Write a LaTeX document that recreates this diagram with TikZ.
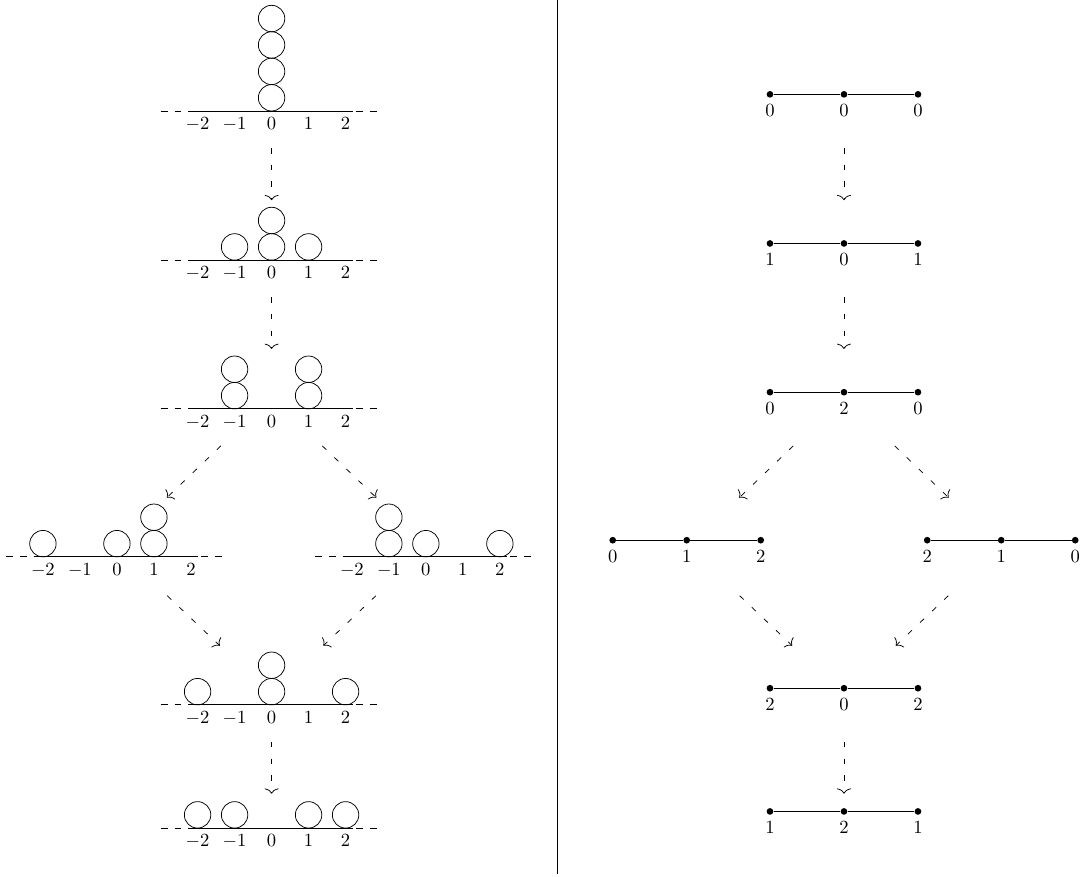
\documentclass[tikz,border=0pt]{standalone}
\usepackage{amsmath,amssymb}
\usepackage{tikz}
\usetikzlibrary{arrows, arrows.meta, calc, positioning}

\tikzset{
  chip/.style={draw},
  move/.style={-{To[width=7.5pt, length=2.8pt]}, loosely dashed},
  site/.style={circle, fill, inner sep=0pt, minimum size=3.6pt},
}
% number line with ticks named #1-2 ... #12
\newcommand{\chipaxis}[1]{%
  \draw[dash pattern=on 3.75pt off 3.75pt] (-3,0) -- (3,0);
  \draw (-2.2,0) -- (2.2,0);
  \foreach \n in {-2,...,2} \node[below] (#1\n) at (\n,0) {$\n$};
}
% pile of #2 chips at site #1
\newcommand{\chippile}[2]{%
  \foreach \h in {1,...,#2} \draw[chip] (#1,{(2*\h-1)*0.357}) circle[radius=0.25cm];
}

\begin{document}
\begin{tikzpicture}[x=0.7cm, y=0.7cm]
\useasboundingbox (-7.34,3.0) rectangle (21.93,-20.68);

% chips on the line
\begin{scope}
\chipaxis{a}
\chippile{0}{4}
\end{scope}
\begin{scope}[shift={(0,-4.03)}]
\chipaxis{b}
\chippile{-1}{1} \chippile{0}{2} \chippile{1}{1}
\end{scope}
\begin{scope}[shift={(0,-8.05)}]
\chipaxis{c}
\chippile{-1}{2} \chippile{1}{2}
\end{scope}
\begin{scope}[shift={(-4.18,-12.05)}]
\chipaxis{dl}
\chippile{-2}{1} \chippile{0}{1} \chippile{1}{2}
\end{scope}
\begin{scope}[shift={(4.17,-12.05)}]
\chipaxis{dr}
\chippile{-1}{2} \chippile{0}{1} \chippile{2}{1}
\end{scope}
\begin{scope}[shift={(0,-16.05)}]
\chipaxis{e}
\chippile{-2}{1} \chippile{0}{2} \chippile{2}{1}
\end{scope}
\begin{scope}[shift={(0,-19.38)}]
\chipaxis{f}
\chippile{-2}{1} \chippile{-1}{1} \chippile{1}{1} \chippile{2}{1}
\end{scope}

% separator
\coordinate (top) at (7.73,3.0);
\coordinate (bot) at (7.73,-20.62);
\draw (top) -- (bot);

% the path graph
\foreach \g/\px/\py/\la/\lb/\lc in {g1/15.47/0.45/0/0/0, g2/15.47/-3.58/1/0/1,
    g3/15.47/-7.6/0/2/0, g4/11.22/-11.6/0/1/2, g5/19.72/-11.6/2/1/0,
    g6/15.47/-15.6/2/0/2, g7/15.47/-18.93/1/2/1} {
  \begin{scope}[shift={(\px,\py)}]
  \node[site, label=below:$\la$] (\g a) at (-2,0) {};
  \node[site, label=below:$\lb$] (\g b) at (0,0) {};
  \node[site, label=below:$\lc$] (\g c) at (2,0) {};
  \draw (\g a) -- (\g b) -- (\g c);
  \end{scope}
}

% moves, same on both sides
\foreach \dx/\s in {0/l, 15.47/r} {
  \foreach \i/\xa/\ya/\xb/\yb in {1/0/-1.0/0/-2.41, 2/0/-5.03/0/-6.43,
      3/-1.37/-9.05/-2.83/-10.45, 4/1.37/-9.05/2.83/-10.45,
      5/-2.82/-13.1/-1.4/-14.45, 6/2.82/-13.1/1.4/-14.45,
      7/0/-17.05/0/-18.45} {
    \coordinate (\s s\i) at (\xa+\dx,\ya);
    \coordinate (\s e\i) at (\xb+\dx,\yb);
    \draw[move] (\s s\i) -- (\s e\i);
  }
}
\end{tikzpicture}
\end{document}
